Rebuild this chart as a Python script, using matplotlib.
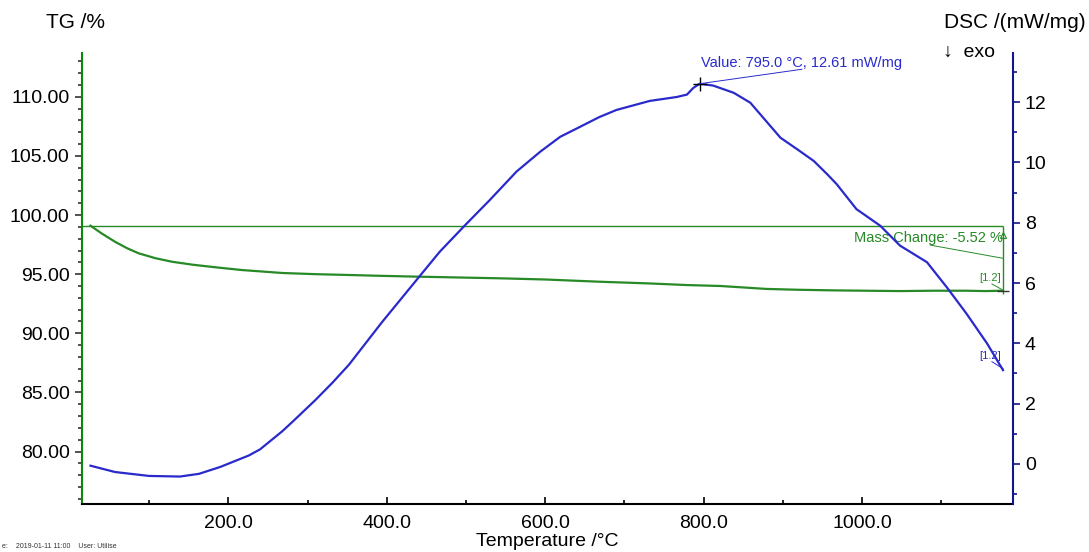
import numpy as np
import matplotlib.pyplot as plt
from matplotlib.ticker import MultipleLocator

plt.rcParams['font.family'] = ['Liberation Sans', 'DejaVu Sans']

# TG curve (mass %)
tg_temp = [26, 40, 57, 72, 87, 108, 129, 155, 184, 217, 268, 310, 352, 392,
           432, 490, 543, 600, 669, 730, 779, 821, 880, 920, 964, 1005, 1048,
           1090, 1132, 1155, 1178]
tg_mass = [99.1, 98.45, 97.74, 97.2, 96.76, 96.35, 96.05, 95.8, 95.58, 95.35,
           95.1, 95.0, 94.93, 94.86, 94.8, 94.72, 94.65, 94.55, 94.36, 94.22,
           94.08, 94.0, 93.75, 93.68, 93.63, 93.6, 93.57, 93.6, 93.6, 93.57,
           93.6]

# DSC curve (mW/mg)
dsc_temp = [26, 57, 100, 139, 163, 190, 226, 240, 268, 282, 310, 331, 352, 394,
            432, 467, 499, 530, 564, 594, 619, 644, 668, 690, 732, 766, 779,
            787, 795, 812, 838, 859, 897, 918, 939, 956, 968, 993, 1023, 1048,
            1082, 1107, 1132, 1158, 1178]
dsc_val = [-0.06, -0.27, -0.40, -0.42, -0.33, -0.10, 0.28, 0.48, 1.08, 1.42,
           2.12, 2.68, 3.28, 4.70, 5.92, 7.04, 7.92, 8.75, 9.70, 10.36, 10.85,
           11.18, 11.5, 11.74, 12.04, 12.17, 12.25, 12.47, 12.61, 12.55, 12.31,
           11.98, 10.82, 10.44, 10.05, 9.61, 9.28, 8.45, 7.90, 7.24, 6.69, 5.86,
           4.98, 3.99, 3.11]

peak_temp, peak_val = 795.0, 12.61
mass_change = -5.52

green = '#278a27'
blue = '#2a2acc'

fig = plt.figure(figsize=(10.89, 5.52), dpi=100)
ax = fig.add_axes([0.0753, 0.087, 0.8549, 0.817])
ax2 = ax.twinx()

ax.plot(tg_temp, tg_mass, color=green, lw=1.6)
ax2.plot(dsc_temp, dsc_val, color=blue, lw=1.6)

ax.set_xlim(15.3, 1190.6)
ax.set_ylim(75.57, 113.7)
ax2.set_ylim(-1.33, 13.63)

# mass change marking
end_t = tg_temp[-1]
ax.hlines(tg_mass[0], 15.3, end_t, color=green, lw=1.0)
ax.vlines(end_t, tg_mass[-1] - 0.3, tg_mass[0], color=green, lw=1.0)
ax.plot([end_t], [tg_mass[0] - 0.8], marker='^', color=green, ms=4,
        mfc='none', mew=0.8)
ax.plot([end_t], [tg_mass[-1]], marker='_', color='#333333', ms=9, mew=1)
ax.text(end_t, 98.03, f'Mass Change: {mass_change:.2f} %', color=green,
        fontsize=10.5, ha='right', va='center')
ax.plot([1086, end_t], [97.46, 96.34], color=green, lw=0.7)
ax.text(end_t - 2, 94.65, '[1.2]', color=green, fontsize=8, ha='right',
        va='center')
ax.plot([1164, end_t], [94.17, tg_mass[-1] + 0.05], color=green, lw=0.7)

# peak annotation
ax2.plot([peak_temp], [peak_val], marker='+', color='black', ms=10, mew=1)
ax2.plot([peak_temp, 924], [peak_val, 13.09], color=blue, lw=0.7)
ax2.text(797, 13.31, f'Value: {peak_temp:.1f} °C, {peak_val:.2f} mW/mg',
         color=blue, fontsize=10.5, ha='left', va='center')
ax2.text(end_t - 2, 3.58, '[1.2]', color=blue, fontsize=8, ha='right',
         va='center')
ax2.plot([1164, end_t], [3.39, dsc_val[-1] + 0.05], color=blue, lw=0.7)

# axes styling
ax.spines['top'].set_visible(False)
ax2.spines['top'].set_visible(False)
ax.spines['right'].set_visible(False)
ax2.spines['left'].set_visible(False)
ax2.spines['bottom'].set_visible(False)
ax.spines['left'].set_color('#0a8a0a')
ax.spines['left'].set_linewidth(1.5)
ax2.spines['right'].set_color('#14148c')
ax2.spines['right'].set_linewidth(1.5)
ax.spines['bottom'].set_linewidth(1.5)

ax.xaxis.set_minor_locator(MultipleLocator(100))
ax.yaxis.set_minor_locator(MultipleLocator(1))
ax2.yaxis.set_major_locator(MultipleLocator(2))
ax2.yaxis.set_minor_locator(MultipleLocator(1))

ax.set_xticks([200, 400, 600, 800, 1000])
ax.set_xticklabels(['200.0', '400.0', '600.0', '800.0', '1000.0'])
ax.set_yticks([80, 85, 90, 95, 100, 105, 110])
ax.yaxis.set_major_formatter(lambda v, p: f'{v:.2f}')

ax.tick_params(axis='both', which='major', labelsize=14, length=5, width=1.2)
ax.tick_params(axis='both', which='minor', length=3, width=1.2)
ax.tick_params(axis='x', which='both', direction='in', pad=8)
ax.tick_params(axis='y', which='both', color='#333333', pad=4)
ax2.tick_params(axis='y', which='major', labelsize=14, length=5, width=1.2)
ax2.tick_params(axis='y', which='minor', length=3, width=1.2)
ax2.tick_params(axis='y', which='both', color='#14148c')

ax.set_xlabel('Temperature /°C', fontsize=14, labelpad=1)
fig.text(0.069, 0.96, 'TG /%', fontsize=15, ha='center', va='center')
fig.text(0.997, 0.96, 'DSC /(mW/mg)', fontsize=15, ha='right', va='center')
fig.text(0.866, 0.905, '↓  exo', fontsize=14, ha='left', va='center')
fig.text(0.002, 0.004, 'e:    2019-01-11 11:00    User: Utilise',
         fontsize=5, ha='left', va='bottom', color='#333333')

fig.savefig('out.png', dpi=100)
